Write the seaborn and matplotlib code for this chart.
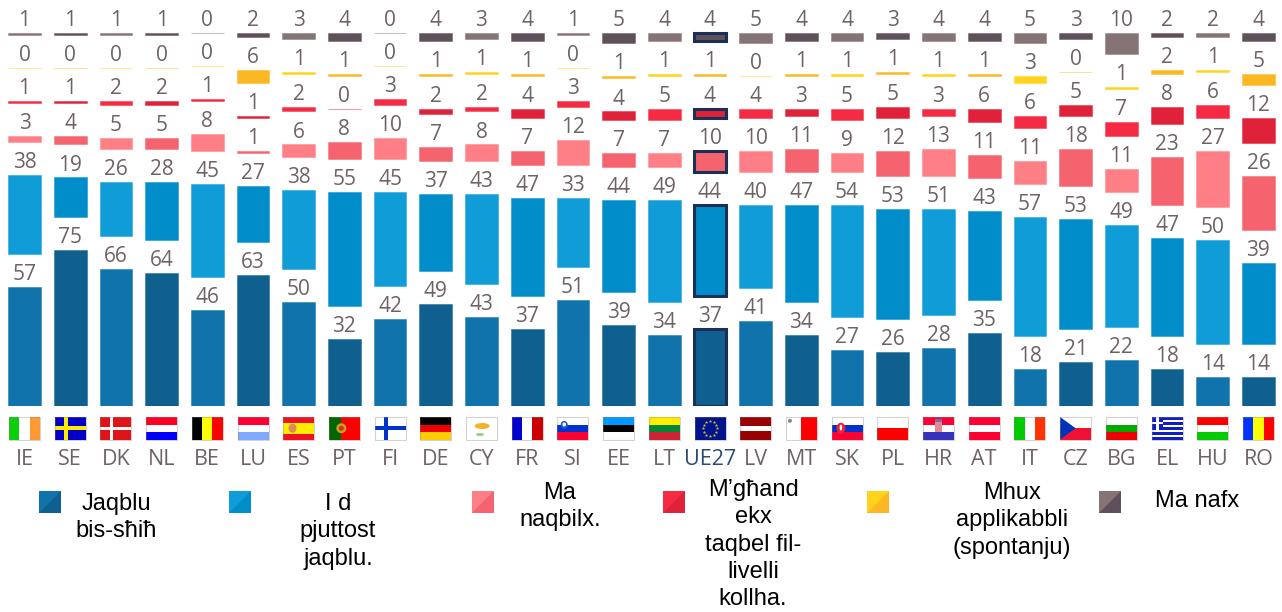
import numpy as np
import pandas as pd
import matplotlib
matplotlib.use("Agg")
import matplotlib.pyplot as plt
from matplotlib.patches import Rectangle, Polygon, Ellipse
from matplotlib.colors import to_rgba
import seaborn as sns

countries = ["IE","SE","DK","NL","BE","LU","ES","PT","FI","DE","CY","FR","SI","EE","LT","UE27",
             "LV","MT","SK","PL","HR","AT","IT","CZ","BG","EL","HU","RO"]
total_agree = [57,75,66,64,46,63,50,32,42,49,43,37,51,39,34,37,41,34,27,26,28,35,18,21,22,18,14,14]
tend_agree  = [38,19,26,28,45,27,38,55,45,37,43,47,33,44,49,44,40,47,54,53,51,43,57,53,49,47,50,39]
tend_not    = [3,4,5,5,8,1,6,8,10,7,8,7,12,7,7,10,10,11,9,12,13,11,11,18,11,23,27,26]
not_level   = [1,1,2,2,1,1,2,0,3,2,2,4,3,4,5,4,4,3,5,5,3,6,6,5,7,8,6,12]
not_appl    = [0,0,0,0,0,6,1,1,0,1,1,1,0,1,1,1,0,1,1,1,1,1,3,0,1,2,1,5]
dont_know   = [1,1,1,1,0,2,3,4,0,4,3,4,1,5,4,4,5,4,4,3,4,4,5,3,10,2,2,4]
series_values = [total_agree, tend_agree, tend_not, not_level, not_appl, dont_know]

legend_labels = ["Jaqblu\nbis-sħiħ", "I d\npjuttost\njaqblu.", "Ma\nnaqbilx.",
                 "M’għand\nekx\ntaqbel fil-\nlivelli\nkollha.",
                 "Mhux\napplikabbli\n(spontanju)", "Ma nafx"]
tones = [("#1173AB", "#0F5F8F"), ("#109CD6", "#008DC9"), ("#FF7F86", "#F5636E"),
         ("#F42B42", "#E0213A"), ("#FFD31A", "#FCB822"), ("#857475", "#5F5159")]

TXT = "#6E6264"
NAVY = "#1B2F57"
PX_PER_UNIT = 2.08
STEP = 45.7
FIRST_CX = 24.5
BASE_Y = 406.0
GAP = 33.0 / PX_PER_UNIT
W, H = 1282, 612

sns.set_theme(style="white")
plt.rcParams["font.family"] = ["Open Sans", "DejaVu Sans"]

fig = plt.figure(figsize=(W / 100, H / 100), dpi=100, facecolor="white")
ax = fig.add_axes([0, (H - BASE_Y) / H, 1, BASE_Y / H])
ax.patch.set_alpha(0)

n = len(countries)
cum = np.zeros(n)
for k, vals in enumerate(series_values):
    df = pd.DataFrame({"country": countries, "value": vals})
    before = len(ax.patches)
    sns.barplot(data=df, x="country", y="value", order=countries, ax=ax, color=tones[k][0],
                saturation=1, width=0.715, errorbar=None, bottom=cum + k * GAP)
    for i, p in enumerate(ax.patches[before:]):
        col = tones[k][i % 2]
        p.set_facecolor(col)
        if countries[i] == "UE27" and k != 4:
            p.set_edgecolor(NAVY)
            p.set_linewidth(2.2)
        else:
            p.set_edgecolor(to_rgba(col, 0.45))
            p.set_linewidth(0.75)
        top = cum[i] + k * GAP + vals[i]
        ax.annotate(str(vals[i]), xy=(i, top), xytext=(0, 5), textcoords="offset points",
                    ha="center", va="baseline", fontsize=15, color=TXT, annotation_clip=False)
    cum = cum + np.array(vals)

ax.set_xlim((0 - FIRST_CX) / STEP, (W - FIRST_CX) / STEP)
ax.set_ylim(0, BASE_Y / PX_PER_UNIT)
ax.set_xlabel("")
ax.set_ylabel("")
ax.set_yticks([])
sns.despine(ax=ax, left=True, bottom=True)
ax.set_xticks(range(n))
ax.set_xticklabels(countries)
ax.tick_params(axis="x", length=0, pad=31, labelsize=15.5, labelcolor=TXT)
for t, c in zip(ax.get_xticklabels(), countries):
    if c == "UE27":
        t.set_color("#2D4A77")

# overlay in pixel coordinates for flags and the legend
ov = fig.add_axes([0, 0, 1, 1], zorder=5)
ov.set_xlim(0, W)
ov.set_ylim(H, 0)
ov.axis("off")
ov.patch.set_alpha(0)

FW, FH, FY = 31.0, 22.5, 417.0

def rect(x, y, w, h, c, z=6):
    ov.add_patch(Rectangle((x, y), w, h, facecolor=c, edgecolor="none", zorder=z))

def hstripes(x, cols, weights=None):
    weights = weights or [1] * len(cols)
    tot = sum(weights)
    y = FY
    for c, wt in zip(cols, weights):
        h = FH * wt / tot
        rect(x, y, FW, h, c)
        y += h

def vstripes(x, cols, weights=None):
    weights = weights or [1] * len(cols)
    tot = sum(weights)
    xx = x
    for c, wt in zip(cols, weights):
        w = FW * wt / tot
        rect(xx, FY, w, FH, c)
        xx += w

def cross(x, bg, fg, cx=0.36, t=4.2):
    rect(x, FY, FW, FH, bg)
    rect(x + FW * cx - t / 2, FY, t, FH, fg, 7)
    rect(x, FY + FH / 2 - t / 2, FW, t, fg, 7)

def blob(x, fx, fy, w, h, c):
    ov.add_patch(Ellipse((x + FW * fx, FY + FH * fy), w, h, facecolor=c, edgecolor="none", zorder=8))

h_flags = {
    "NL": ["#FF0022", "#FFFFFF", "#0000FF"], "LU": ["#FF0033", "#FFFFFF", "#80AAFF"],
    "DE": ["#000000", "#EE0000", "#FFCC00"], "SI": ["#FFFFFF", "#0033CC", "#FF0033"],
    "EE": ["#0099FF", "#000000", "#FFFFFF"], "LT": ["#FFEE00", "#008833", "#CC2233"],
    "SK": ["#FFFFFF", "#0033CC", "#FF0033"], "PL": ["#FFFFFF", "#FF0000"],
    "HR": ["#FF0033", "#FFFFFF", "#3333BB"], "AT": ["#FF0033", "#FFFFFF", "#FF0033"],
    "BG": ["#FFFFFF", "#00AA00", "#EE0000"], "HU": ["#FF0000", "#FFFFFF", "#00CC00"],
}
v_flags = {
    "IE": ["#0ACF0A", "#FFFFFF", "#FF9933"], "BE": ["#000000", "#FFFF00", "#FF0000"],
    "FR": ["#0000CC", "#FFFFFF", "#CC0000"], "IT": ["#00CC00", "#FFFFFF", "#FF3300"],
    "RO": ["#0033FF", "#FFFF00", "#FF0000"],
}

for i, c in enumerate(countries):
    x = FIRST_CX + STEP * i - FW / 2
    if c in h_flags:
        hstripes(x, h_flags[c])
    elif c in v_flags:
        vstripes(x, v_flags[c])
    elif c == "SE":
        cross(x, "#0000C8", "#FFEE00")
    elif c == "DK":
        cross(x, "#E01418", "#FFFFFF", t=3.0)
    elif c == "FI":
        cross(x, "#FFFFFF", "#0033CC")
    elif c == "ES":
        hstripes(x, ["#EE1122", "#FFEE00", "#EE1122"], [1, 2, 1])
        blob(x, 0.3, 0.5, 8, 9, "#E08A5A")
    elif c == "PT":
        vstripes(x, ["#006600", "#FF0000"], [2, 3])
        blob(x, 0.4, 0.5, 10, 10, "#C8A020")
        blob(x, 0.4, 0.5, 5, 5, "#CC3322")
    elif c == "CY":
        rect(x, FY, FW, FH, "#FFFFFF")
        blob(x, 0.52, 0.4, 15, 6, "#F5B32A")
        blob(x, 0.45, 0.78, 8, 3, "#9BCB8C")
    elif c == "LV":
        hstripes(x, ["#990000", "#FFFFFF", "#990000"], [2, 1, 2])
    elif c == "MT":
        vstripes(x, ["#FFFFFF", "#FF0000"])
        blob(x, 0.13, 0.17, 4, 4, "#888888")
    elif c == "CZ":
        hstripes(x, ["#FFFFFF", "#EE1133"])
        ov.add_patch(Polygon([(x, FY), (x + FW * 0.5, FY + FH / 2), (x, FY + FH)],
                             facecolor="#0033BB", edgecolor="none", zorder=7))
    elif c == "EL":
        hstripes(x, ["#0D1EC8", "#FFFFFF"] * 4 + ["#0D1EC8"])
        rect(x, FY, FW * 0.38, FH * 5 / 9, "#0D1EC8", 7)
        rect(x + FW * 0.19 - 1.2, FY, 2.4, FH * 5 / 9, "#FFFFFF", 8)
        rect(x, FY + FH * 5 / 18 - 1.2, FW * 0.38, 2.4, "#FFFFFF", 8)
    elif c == "UE27":
        rect(x, FY, FW, FH, "#00148C")
        ang = np.deg2rad(np.arange(0, 360, 30))
        ov.scatter(x + FW / 2 + 7.3 * np.cos(ang), FY + FH / 2 + 7.3 * np.sin(ang),
                   marker="*", s=7, color="#D8B830", linewidths=0, zorder=8)
    if c == "SI":
        blob(x, 0.22, 0.35, 7, 8, "#2255CC")
        blob(x, 0.22, 0.33, 3.5, 4, "#FFFFFF")
    if c == "SK":
        blob(x, 0.3, 0.5, 9, 11, "#EE2233")
        blob(x, 0.3, 0.47, 2.5, 6, "#FFFFFF")
    if c == "HR":
        rect(x + FW * 0.39, FY + 3, FW * 0.22, 12, "#E08A95", 8)
        rect(x + FW * 0.39, FY + 2, FW * 0.22, 2.5, "#6677AA", 9)
    ov.add_patch(Rectangle((x, FY), FW, FH, facecolor="none",
                           edgecolor=(0.55, 0.5, 0.5, 0.35), linewidth=0.8, zorder=9))

# legend
sw_x = [39, 229, 472, 663, 867, 1099]
tx_x = [116, 338, 560, 753, 1012, 1197]
tx_y = [493, 493, 482, 479, 482, 490]
for k, label in enumerate(legend_labels):
    x0 = sw_x[k]
    y0, s = 491, 21.5
    ov.add_patch(Rectangle((x0, y0), s, s, facecolor=tones[k][0], edgecolor="none", zorder=6))
    ov.add_patch(Polygon([(x0 + s, y0), (x0 + s, y0 + s), (x0, y0 + s)], facecolor=tones[k][1], edgecolor="none", zorder=7))
    ov.text(tx_x[k], tx_y[k], label, ha="center", va="top", fontsize=17, color="#000000",
            family=["Liberation Sans", "DejaVu Sans"], linespacing=1.315, multialignment="center")

fig.savefig("out.png", dpi=100, facecolor="white")
